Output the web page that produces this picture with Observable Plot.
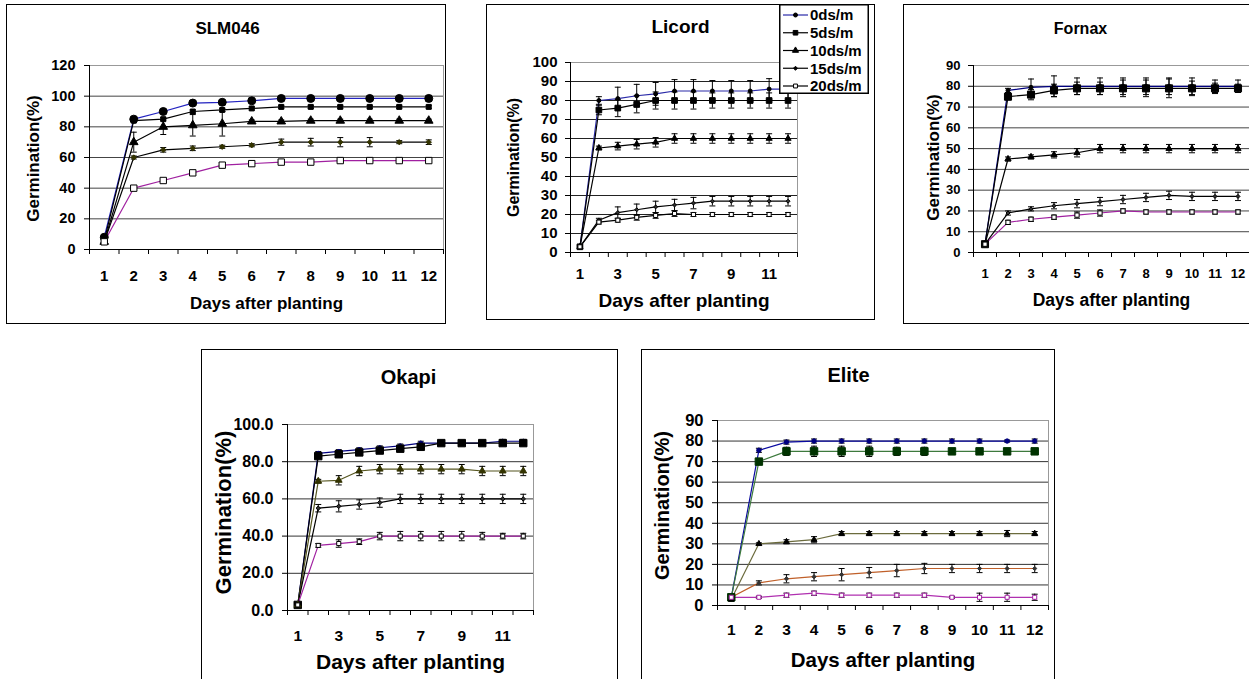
<!DOCTYPE html>
<html><head><meta charset="utf-8">
<script src="https://cdn.jsdelivr.net/npm/d3@7"></script>
<script src="https://cdn.jsdelivr.net/npm/@observablehq/plot@0.6"></script>
<style>
body{margin:0;background:#fff;}
#wrap{position:relative;width:1249px;height:679px;overflow:hidden;font-family:"Liberation Sans",Arial,sans-serif;background:#fff;}
.panel{position:absolute;}
.panel svg{position:absolute;left:0;top:0;overflow:visible;}
.box{position:absolute;left:0;top:0;right:0;bottom:0;border:1.5px solid #000;box-sizing:border-box;pointer-events:none;}
#legend{position:absolute;}
</style></head><body><div id="wrap"></div>
<script>
// ---------- data ----------
const days = [1, 2, 3, 4, 5, 6, 7, 8, 9, 10, 11, 12];
const seriesNames = ["0ds/m", "5ds/m", "10ds/m", "15ds/m", "20ds/m"];

const slm046Values = [
  [8, 85, 90, 95.5, 96, 97, 98.5, 98.5, 98.5, 98.5, 98.5, 98.5],
  [6, 84, 85, 90, 91, 92, 93, 93, 93, 93, 93, 93],
  [5, 70, 80, 81, 82, 83.5, 83.5, 84, 84, 84, 84, 84],
  [5, 60, 65, 66, 67, 68, 70, 70, 70, 70, 70, 70],
  [5, 40, 45, 50, 55, 56, 57, 57, 58, 58, 58, 58]
];
const slm046Errors = [
  [1, 1, 1, 1, 1, 1, 1, 1, 1, 1, 1, 2],
  [1, 1, 1, 1, 1, 1, 1, 1, 1, 1, 1, 1],
  [1, 6.5, 5, 7, 8, 1, 1, 1, 1, 1, 1, 1],
  [1, 1, 1.5, 1.5, 1, 1, 2, 2.5, 3, 3, 1, 1.5],
  [1, 1, 1, 1, 1, 1.5, 1, 1, 1, 1, 1, 1]
];

const licordValues = [
  [3, 80, 81, 82.5, 83.5, 85, 85, 85, 85, 85, 86, 86],
  [3, 75, 76, 78, 80, 80, 80, 80, 80, 80, 80, 80],
  [3, 55, 56, 57, 58, 60, 60, 60, 60, 60, 60, 60],
  [3, 17, 21, 22.5, 24, 25, 26, 27, 27, 27, 27, 27],
  [3, 16, 17, 18.5, 19.5, 20.5, 20, 20, 20, 20, 20, 20]
];
const licordErrors = [
  [0.5, 2, 6, 6, 6, 6, 6, 5.5, 5.5, 5.5, 5.5, 5.5],
  [0.5, 2.5, 4.5, 4.5, 4.5, 4.5, 4.5, 4, 4, 4, 4, 4],
  [0.5, 1, 2, 2.5, 2.5, 2.5, 2.5, 2.5, 2.5, 2.5, 2.5, 2.5],
  [0.5, 1, 3, 3, 3, 3, 3, 2.5, 2.5, 2.5, 2.5, 2.5],
  [0.5, 1, 1, 1.5, 1.5, 1.5, 1, 1, 1, 1, 1, 1]
];

const fornaxValues = [
  [4, 78, 79.5, 80, 80, 80, 80, 80, 80, 80, 80, 80],
  [4, 75, 76, 78, 79, 79, 79, 79, 79, 79, 79, 79],
  [4, 45, 46, 47, 48, 50, 50, 50, 50, 50, 50, 50],
  [4, 19, 21, 22.5, 23.5, 24.5, 25.5, 26.5, 27.5, 27, 27, 27],
  [4, 14.5, 16, 17, 18, 19, 20, 19.5, 19.5, 19.5, 19.5, 19.5]
];
const fornaxErrors = [
  [0.5, 1, 4, 5, 4, 4, 4, 4, 4, 4, 3, 3],
  [0.5, 1.5, 2.5, 3, 3, 3, 4, 4, 4.5, 3.5, 2.5, 2],
  [0.5, 1, 1, 1.5, 2, 2, 2, 2, 2, 2, 2, 2],
  [0.5, 1, 1, 1.5, 2, 2, 2, 2, 2, 2, 2, 2],
  [0.5, 1, 1, 1, 1.5, 1.5, 1, 1, 1, 1, 1, 1]
];

const okapiValues = [
  [3, 84.5, 85.5, 86.5, 87.5, 88.5, 90, 90, 90, 90, 91, 91],
  [3, 83, 84, 85, 86, 87, 88, 90, 90, 90, 90, 90],
  [3, 69.5, 70, 75, 76, 76, 76, 76, 76, 75, 75, 75],
  [3, 55, 56, 57, 58, 60, 60, 60, 60, 60, 60, 60],
  [3, 35, 36, 37, 40, 40, 40, 40, 40, 40, 40, 40]
];
const okapiErrors = [
  [1, 1, 1, 1, 1, 1, 1, 1, 1, 1, 1, 1],
  [1, 1, 1, 1, 1, 1, 1, 1, 1, 1, 1, 1],
  [1, 1, 2.5, 2.5, 2.5, 2.5, 2.5, 2.5, 2.5, 2.5, 2.5, 2.5],
  [1, 2, 3, 2.5, 2.5, 2.5, 2.5, 2.5, 2.5, 2.5, 2.5, 2.5],
  [1, 1, 2, 1.5, 2, 2.5, 2.5, 2.5, 2.5, 2, 1.5, 1.5]
];

const eliteValues = [
  [4, 75.5, 79.5, 80, 80, 80, 80, 80, 80, 80, 80, 80],
  [4, 70, 75, 75, 75, 75, 75, 75, 75, 75, 75, 75],
  [3, 30, 31, 32, 35, 35, 35, 35, 35, 35, 35, 35],
  [4, 11, 13, 14, 15, 16, 17, 18, 18, 18, 18, 18],
  [4, 4, 5, 6, 5, 5, 5, 5, 4, 4, 4, 4]
];
const eliteErrors = [
  [1, 1, 1, 1, 1, 1, 1, 1, 1, 1, 0.5, 1],
  [1, 1, 2, 2.5, 2.5, 2.5, 2, 2, 1, 1, 1, 1],
  [1, 0.5, 1, 1.5, 1, 1, 1, 1, 1, 1, 1.5, 1],
  [1, 1, 2, 2, 3, 2.5, 3, 2.5, 2, 2, 2, 2],
  [1, 0.5, 1, 1, 1, 1, 1, 1, 0.5, 2, 2, 1.5]
];

const allDayLabels = [1, 2, 3, 4, 5, 6, 7, 8, 9, 10, 11, 12];
const oddDayLabels = [1, 3, 5, 7, 9, 11];

// ---------- styles / layout ----------
const symbols = ["circle", "square", "triangle", "diamond2", "square"];
const capSymbol = {draw(ctx, size) { const w = Math.sqrt(size / Math.PI); ctx.moveTo(-w, 0); ctx.lineTo(w, 0); }};

const panels = [
  {title: "SLM046", values: slm046Values, errors: slm046Errors, left: 6, top: 4, w: 440, h: 320,
   ml: 83, mr: 3, mt: 61, mb: 75, ymax: 120, ystep: 20, yfmt: d => String(d), xLabels: allDayLabels,
   titlePos: [221, 24], titleSize: 17, ylabPos: [27, 154], ylabSize: 17, xlabPos: [260, 299], xlabSize: 17,
   yTickSize: 14.5, xTickSize: 15, yTickDx: -14, xTickDy: 27,
   lineColors: ["#2323c0", "#000", "#000", "#000", "#a020a0"],
   fills: ["#000", "#000", "#000", "#333300", "#fff"], strokes: ["#000", "#000", "#000", "#333300", "#000"],
   r: [4, 2.8, 3.2, 2.4, 3.6], grid: "#444"},
  {title: "Licord", values: licordValues, errors: licordErrors, left: 486, top: 4, w: 389, h: 316,
   ml: 84, mr: 78, mt: 58, mb: 68, ymax: 100, ystep: 10, yfmt: d => String(d), xLabels: oddDayLabels,
   titlePos: [194, 22], titleSize: 19, ylabPos: [27, 153], ylabSize: 16, xlabPos: [197.5, 296], xlabSize: 19,
   yTickSize: 15, xTickSize: 15, yTickDx: -13, xTickDy: 22,
   lineColors: ["#2a2aa8", "#000", "#000", "#000", "#000"],
   fills: ["#000", "#000", "#000", "#333", "#fff"], strokes: ["#000", "#000", "#000", "#000", "#000"],
   r: [2, 3.2, 2.3, 1.8, 2.3], grid: "#222"},
  {title: "Fornax", values: fornaxValues, errors: fornaxErrors, left: 903, top: 4, w: 350, h: 320,
   ml: 70, mr: 4, mt: 61, mb: 72, ymax: 90, ystep: 10, yfmt: d => String(d), xLabels: allDayLabels,
   titlePos: [177, 24], titleSize: 16, ylabPos: [30, 153], ylabSize: 17, xlabPos: [208, 296], xlabSize: 17.5,
   yTickSize: 13, xTickSize: 13, yTickDx: -13, xTickDy: 21,
   lineColors: ["#000080", "#000", "#000", "#000", "#a020a0"],
   fills: ["#000", "#000", "#000", "#333", "#fff"], strokes: ["#000", "#000", "#000", "#000", "#000"],
   r: [2, 4, 2.3, 1.8, 2.4], grid: "#444"},
  {title: "Okapi", values: okapiValues, errors: okapiErrors, left: 201, top: 349, w: 417, h: 340,
   ml: 86, mr: 85, mt: 75, mb: 79, ymax: 100, ystep: 20, yfmt: d => d.toFixed(1), xLabels: oddDayLabels,
   titlePos: [207, 28], titleSize: 20, ylabPos: [22, 163], ylabSize: 22, xlabPos: [209, 313], xlabSize: 21,
   yTickSize: 16, xTickSize: 15.5, yTickDx: -14, xTickDy: 26,
   lineColors: ["#000080", "#000", "#55551f", "#000", "#a020a0"],
   fills: ["#000080", "#000", "#333300", "#333", "#fff"], strokes: ["#000080", "#000", "#333300", "#000", "#000"],
   r: [2, 4.2, 2.5, 2, 2.3], grid: "#333"},
  {title: "Elite", values: eliteValues, errors: eliteErrors, left: 641, top: 349, w: 414, h: 340,
   ml: 76, mr: 7, mt: 71, mb: 84, ymax: 90, ystep: 10, yfmt: d => String(d), xLabels: allDayLabels,
   titlePos: [207, 26], titleSize: 20, ylabPos: [21, 156], ylabSize: 20, xlabPos: [241.5, 311], xlabSize: 20.5,
   yTickSize: 16.5, xTickSize: 15.5, yTickDx: -14, xTickDy: 25,
   lineColors: ["#0a0aa0", "#3d7a3d", "#6b6b3d", "#c0602a", "#b030b0"],
   fills: ["#000080", "#003300", "#000", "#333", "#fff"], strokes: ["#000080", "#003300", "#000", "#333", "#a020a0"],
   r: [2.2, 4.2, 2.2, 1.9, 2.3], grid: "#333"}
];

const FONT = "'Liberation Sans', Arial, sans-serif";

function label(p, text, pos, size, extra = {}) {
  return Plot.text([text], {text: d => d, frameAnchor: "top-left", dx: pos[0] - p.ml, dy: pos[1] - p.mt,
    textAnchor: "middle", lineAnchor: "middle", fontSize: size, fontWeight: "bold", fill: "#000", ...extra});
}

function buildPanel(p) {
  const bySeries = p.values.map((vals, si) => vals.map((v, di) => ({s: seriesNames[si], day: days[di], v, e: p.errors[si][di]})));
  const yticks = d3.range(0, p.ymax + 1e-9, p.ystep);
  const marks = [
    Plot.ruleY(yticks.filter(t => t > 0 && t < p.ymax), {stroke: p.grid, strokeWidth: 1}),
    Plot.ruleY([p.ymax], {stroke: "#999"}),
    Plot.ruleX([12.5], {stroke: "#999"}),
    Plot.axisY({ticks: yticks, tickSize: 5, tickFormat: () => "", label: null}),
    Plot.axisX({ticks: d3.range(0.5, 13, 1), tickSize: 5, tickFormat: () => "", label: null}),
    Plot.ruleX([0.5], {stroke: "#000"}),
    Plot.ruleY([0], {stroke: "#000"}),
    Plot.text(yticks, {y: d => d, text: p.yfmt, frameAnchor: "left", dx: p.yTickDx, textAnchor: "end",
      lineAnchor: "middle", fontSize: p.yTickSize, fontWeight: "bold", fill: "#000"}),
    Plot.text(p.xLabels, {x: d => d, text: d => String(d), frameAnchor: "bottom", dy: p.xTickDy,
      lineAnchor: "middle", fontSize: p.xTickSize, fontWeight: "bold", fill: "#000"})
  ];
  bySeries.forEach((rows, i) => {
    marks.push(Plot.line(rows, {x: "day", y: "v", stroke: p.lineColors[i], strokeWidth: 1.2}));
  });
  bySeries.forEach((rows, i) => {
    marks.push(Plot.ruleX(rows, {x: "day", y1: d => d.v - d.e, y2: d => d.v + d.e, stroke: "#000", strokeWidth: 1}));
    marks.push(Plot.dot(rows, {x: "day", y: d => d.v + d.e, symbol: capSymbol, r: 3, stroke: "#000", fill: "none", strokeWidth: 1}));
    marks.push(Plot.dot(rows, {x: "day", y: d => d.v - d.e, symbol: capSymbol, r: 3, stroke: "#000", fill: "none", strokeWidth: 1}));
  });
  bySeries.forEach((rows, i) => {
    marks.push(Plot.dot(rows, {x: "day", y: "v", symbol: symbols[i], r: p.r[i], fill: p.fills[i], stroke: p.strokes[i], strokeWidth: 1}));
  });
  marks.push(label(p, p.title, p.titlePos, p.titleSize));
  marks.push(label(p, "Germination(%)", p.ylabPos, p.ylabSize, {rotate: -90}));
  marks.push(label(p, "Days after planting", p.xlabPos, p.xlabSize));

  return Plot.plot({
    width: p.w, height: p.h,
    marginLeft: p.ml, marginRight: p.mr, marginTop: p.mt, marginBottom: p.mb,
    x: {type: "linear", domain: [0.5, 12.5], axis: null},
    y: {type: "linear", domain: [0, p.ymax], axis: null},
    style: {background: "transparent", fontFamily: FONT, color: "#000", overflow: "visible"},
    marks
  });
}

const wrap = document.getElementById("wrap");
panels.forEach(p => {
  const div = document.createElement("div");
  div.className = "panel";
  Object.assign(div.style, {left: p.left + "px", top: p.top + "px", width: p.w + "px", height: p.h + "px"});
  div.appendChild(buildPanel(p));
  const box = document.createElement("div");
  box.className = "box";
  div.appendChild(box);
  wrap.appendChild(div);
});

// legend (over the Licord panel)
const legendLines = ["#2a2aa8", "#000", "#000", "#000", "#000"];
const legendR = [2, 2.6, 2.3, 1.8, 2.2];
const legendFills = ["#000", "#000", "#000", "#000", "#fff"];
const lg = d3.select("#wrap").append("svg").attr("id", "legend")
  .attr("width", 90).attr("height", 90)
  .style("left", "779px").style("top", "4px");
lg.append("rect").attr("x", 0.75).attr("y", 0.75).attr("width", 88.5).attr("height", 88.5)
  .attr("fill", "#fff").attr("stroke", "#000").attr("stroke-width", 1.5);
seriesNames.forEach((name, i) => {
  const y = 11 + i * 17.75;
  lg.append("line").attr("x1", 4).attr("x2", 29).attr("y1", y).attr("y2", y)
    .attr("stroke", legendLines[i]).attr("stroke-width", 1.2);
  const symMap = [d3.symbolCircle, d3.symbolSquare, d3.symbolTriangle, d3.symbolDiamond2, d3.symbolSquare];
  lg.append("path").attr("d", d3.symbol(symMap[i], Math.PI * legendR[i] * legendR[i])())
    .attr("transform", `translate(16.5,${y})`).attr("fill", legendFills[i]).attr("stroke", "#000").attr("stroke-width", 1);
  lg.append("text").attr("x", 31).attr("y", y).attr("dy", "0.35em")
    .attr("font-family", FONT).attr("font-weight", "bold").attr("font-size", 15).attr("fill", "#000").text(name);
});
</script></body></html>
